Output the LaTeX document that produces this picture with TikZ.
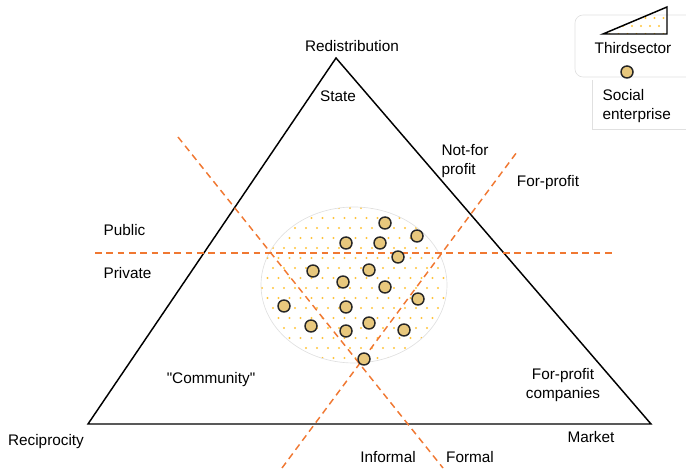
\documentclass[tikz,border=0pt]{standalone}
\usepackage{fontspec}
\setmainfont{Liberation Sans}
\usetikzlibrary{positioning}
\definecolor{cutline}{RGB}{240,120,50}
\definecolor{dotfill}{RGB}{255,196,60}
\definecolor{sefill}{RGB}{232,200,125}

\begin{document}
\begin{tikzpicture}[x=0.75pt,y=-0.75pt,
    lbl/.style={font=\fontsize{11.5}{14}\selectfont, inner sep=1pt},
    cut/.style={cutline, line width=1.1pt, dash pattern=on 5pt off 3.5pt},
    firm/.style={circle, draw=black!85, line width=1.1pt, fill=sefill, minimum size=9pt, inner sep=0pt},
    faint/.style={draw=black!12, line width=0.5pt}]
    \useasboundingbox (0,0) rectangle (686,470);

    % third sector area
    \begin{scope}
        \clip (354,285) ellipse (69.75pt and 58.5pt);
        \foreach \r in {0,...,16} {
            \foreach \c in {0,...,17} {
                \pgfmathsetmacro{\dx}{262 + 11*\c + 5.5*mod(\r,2)}
                \pgfmathsetmacro{\dy}{208 + 10*\r}
                \fill[dotfill] (\dx,\dy) circle (0.9pt);
            }
        }
    \end{scope}
    \draw[faint] (354,285) ellipse (69.75pt and 58.5pt);

    % welfare triangle
    \coordinate (redis) at (336,58);
    \coordinate (recip) at (88,424);
    \coordinate (market) at (651,424);
    \draw[line width=1.1pt, line join=miter] (redis) -- (recip) -- (market) -- cycle;

    % dividing lines
    \coordinate (pubL) at (95,253);
    \coordinate (pubR) at (615,253);
    \coordinate (formT) at (178,137);
    \coordinate (formB) at (443,468);
    \coordinate (profT) at (517,152);
    \coordinate (profB) at (282,468);
    \draw[cut] (pubL) -- (pubR);
    \draw[cut] (formT) -- (formB);
    \draw[cut] (profB) -- (profT);

    % social enterprises
    \foreach \x/\y [count=\i] in {385/223, 417/236, 346/243, 380/243, 398/257,
        313/271, 369/270, 343/282, 385/287, 418/299, 284/306, 346/307,
        311/326, 346/331, 369/323, 404/330, 364/359} {
        \node[firm] (se\i) at (\x,\y) {};
    }

    % labels
    \node[lbl] (redisl) at (352,46) {Redistribution};
    \node[lbl] (state) at (338,96) {State};
    \node[lbl, align=left, anchor=north west] (nfp) at (440,143) {Not-for\\profit};
    \node[lbl] (fp) at (548,183) {For-profit};
    \node[lbl, anchor=west] (public) at (102,230) {Public};
    \node[lbl, anchor=west] (private) at (102,273) {Private};
    \node[lbl] (comm) at (211,380) {\textquotedbl Community\textquotedbl};
    \node[lbl, align=center] (fpc) at (563,385) {For-profit\\companies};
    \node[lbl] (recipl) at (46,442) {Reciprocity};
    \node[lbl] (marketl) at (591,437) {Market};
    \node[lbl] (informal) at (388,457) {Informal};
    \node[lbl] (formal) at (470,457) {Formal};

    % legend
    \draw[faint, rounded corners=6pt] (575,77) -- (575,15) -- (700,15) -- (700,77) -- cycle;
    \draw[faint] (592,80) -- (592,129) -- (686,129);
    \begin{scope}
        \clip (603,34) -- (667,7) -- (667,34) -- cycle;
        \foreach \r in {0,...,3} {
            \foreach \c in {0,...,7} {
                \pgfmathsetmacro{\dx}{605 + 9*\c + 4.5*mod(\r,2)}
                \pgfmathsetmacro{\dy}{10 + 8*\r}
                \fill[dotfill] (\dx,\dy) circle (0.9pt);
            }
        }
    \end{scope}
    \draw[line width=1.1pt, line join=miter] (603,34) -- (667,7) -- (667,34) -- cycle;
    \node[lbl] (tslabel) at (633,48) {Thirdsector};
    \node[firm] (sekey) at (627,72) {};
    \node[lbl, align=left, anchor=north west] (selabel) at (601,88) {Social\\enterprise};
\end{tikzpicture}
\end{document}
